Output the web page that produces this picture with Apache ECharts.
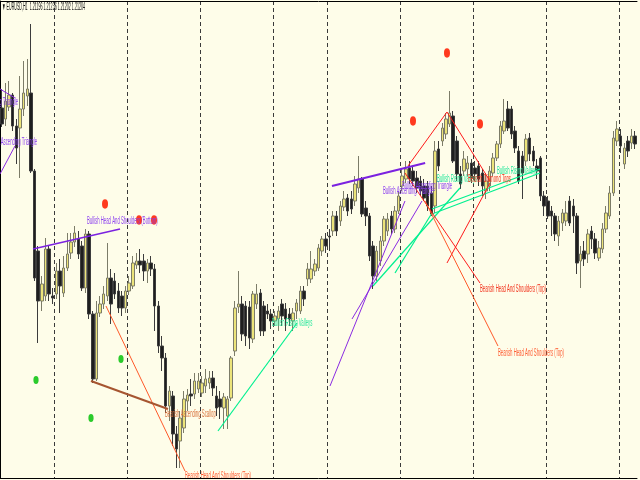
<!DOCTYPE html>
<html><head><meta charset="utf-8">
<script src="https://cdn.jsdelivr.net/npm/echarts@6/dist/echarts.min.js"></script>
<style>html,body{margin:0;padding:0;background:#FEFDE9}#c{width:640px;height:480px}</style>
</head><body><div id="c"></div>
<script>
// ---- candle data (EURUSD H1) ----
const opens = [1.2153,1.2142,1.2154,1.2166,1.2135,1.2133,1.2152,1.2165,1.2168,1.2090,
1.2010,1.1960,1.1965,1.2012,1.1965,1.1967,1.1990,1.1968,1.1993,1.2008,
1.2019,1.2022,1.2015,1.1973,1.2027,1.1947,1.1882,1.1948,1.1957,1.1965,
1.1983,1.1980,1.1970,1.1965,1.1953,1.1970,1.1975,1.1996,1.2000,1.2000,
1.1990,1.1998,1.1992,1.1955,1.1915,1.1903,1.1855,1.1865,1.1827,1.1820,
1.1833,1.1860,1.1867,1.1867,1.1872,1.1868,1.1875,1.1878,1.1883,1.1865,
1.1862,1.1853,1.1845,1.1863,1.1910,1.1954,1.1957,1.1955,1.1954,1.1922,
1.1957,1.1968,1.1955,1.1950,1.1947,1.1940,1.1942,1.1957,1.1952,1.1947,
1.1940,1.1950,1.1950,1.1970,1.1982,1.1982,1.1990,1.1993,1.2010,1.2022,
1.2025,1.2030,1.2045,1.2040,1.2054,1.2063,1.2062,1.2060,1.2073,1.2082,
1.2053,1.2045,1.2015,1.1985,1.2000,1.2020,1.2030,1.2045,1.2032,1.2050,
1.2075,1.2082,1.2093,1.2090,1.2083,1.2080,1.2075,1.2075,1.2068,1.2055,
1.2112,1.2120,1.2127,1.2137,1.2145,1.2120,1.2087,1.2090,1.2092,1.2098,
1.2093,1.2095,1.2088,1.2070,1.2075,1.2088,1.2103,1.2117,1.2130,1.2152,
1.2152,1.2130,1.2110,1.2105,1.2100,1.2123,1.2110,1.2095,1.2103,1.2065,
1.2060,1.2050,1.2045,1.2025,1.2038,1.2040,1.2060,1.2055,1.2045,1.2000,
1.2010,1.2007,1.2030,1.2022,1.2003,1.2012,1.2032,1.2045,1.2068,1.2120,
1.2125,1.2097,1.2120,1.2118,1.2125];
const closes = [1.2137,1.2160,1.2166,1.2135,1.2113,1.2152,1.2168,1.2172,1.2090,1.1983,
1.1960,1.1977,1.2012,1.1967,1.1963,1.1990,1.1975,1.1993,1.2007,1.2019,
1.2028,1.2007,1.1973,1.2027,1.1947,1.1882,1.1948,1.1957,1.1967,1.1983,
1.1957,1.1967,1.1953,1.1953,1.1970,1.1978,1.1998,1.2000,1.1996,1.1990,
1.1998,1.1992,1.1955,1.1915,1.1903,1.1855,1.1870,1.1827,1.1812,1.1843,
1.1862,1.1866,1.1865,1.1880,1.1880,1.1878,1.1882,1.1883,1.1873,1.1853,
1.1854,1.1864,1.1862,1.1903,1.1953,1.1957,1.1927,1.1925,1.1923,1.1967,
1.1967,1.1930,1.1930,1.1947,1.1940,1.1945,1.1950,1.1945,1.1942,1.1942,
1.1948,1.1958,1.1970,1.1962,1.1992,1.1992,1.1997,1.2013,1.2022,1.2015,
1.2024,1.2045,1.2030,1.2055,1.2062,1.2050,1.2052,1.2077,1.2082,1.2047,
1.2045,1.2005,1.1985,1.2010,1.2020,1.2042,1.2042,1.2032,1.2050,1.2065,
1.2085,1.2092,1.2082,1.2080,1.2073,1.2070,1.2063,1.2055,1.2047,1.2110,
1.2095,1.2133,1.2142,1.2148,1.2100,1.2087,1.2077,1.2102,1.2098,1.2083,
1.2087,1.2082,1.2075,1.2080,1.2090,1.2103,1.2117,1.2135,1.2140,1.2133,
1.2127,1.2113,1.2080,1.2088,1.2122,1.2107,1.2100,1.2090,1.2065,1.2055,
1.2045,1.2045,1.2027,1.2040,1.2048,1.2048,1.2038,1.2045,1.1998,1.2007,
1.2002,1.2027,1.2022,1.2008,1.2013,1.2032,1.2048,1.2068,1.2123,1.2132,
1.2115,1.2113,1.2110,1.2125,1.2117];
const lows = [1.2134,1.2135,1.2150,1.2130,1.2097,1.2083,1.2145,1.2155,1.2088,1.1980,
1.1918,1.1950,1.1960,1.1960,1.1957,1.1962,1.1948,1.1964,1.1990,1.2002,
1.2014,1.2002,1.1970,1.1968,1.1942,1.1878,1.1880,1.1944,1.1952,1.1960,
1.1937,1.1962,1.1948,1.1945,1.1948,1.1966,1.1972,1.1992,1.1988,1.1980,
1.1978,1.1985,1.1930,1.1908,1.1890,1.1848,1.1840,1.1815,1.1793,1.1793,
1.1828,1.1850,1.1855,1.1862,1.1868,1.1864,1.1868,1.1872,1.1865,1.1845,
1.1842,1.1832,1.1832,1.1860,1.1905,1.1948,1.1920,1.1915,1.1912,1.1918,
1.1952,1.1925,1.1925,1.1942,1.1932,1.1935,1.1930,1.1935,1.1930,1.1935,
1.1930,1.1942,1.1947,1.1955,1.1975,1.1978,1.1985,1.1990,1.2005,1.2008,
1.2010,1.2025,1.2025,1.2035,1.2050,1.2045,1.2047,1.2055,1.2068,1.2044,
1.2035,1.2000,1.1972,1.1980,1.1995,1.2015,1.2025,1.2027,1.2028,1.2047,
1.2070,1.2078,1.2077,1.2075,1.2068,1.2065,1.2060,1.2050,1.2045,1.2048,
1.2090,1.2115,1.2122,1.2134,1.2098,1.2080,1.2072,1.2085,1.2085,1.2078,
1.2080,1.2075,1.2065,1.2062,1.2070,1.2085,1.2100,1.2113,1.2127,1.2130,
1.2122,1.2108,1.2077,1.2062,1.2095,1.2100,1.2095,1.2082,1.2060,1.2045,
1.2042,1.2025,1.2020,1.2015,1.2030,1.2035,1.2035,1.2028,1.1987,1.1973,
1.1995,1.1998,1.2012,1.2002,1.2000,1.2008,1.2028,1.2042,1.2065,1.2115,
1.2108,1.2092,1.2104,1.2112,1.2112];
const highs = [1.2172,1.2178,1.2180,1.2168,1.2142,1.2185,1.2200,1.2202,1.2237,1.2092,
1.2015,1.1985,1.2023,1.2015,1.1973,1.1998,1.2002,1.2005,1.2028,1.2028,
1.2035,1.2030,1.2020,1.2032,1.2030,1.1950,1.1960,1.1965,1.1975,1.2018,
1.1992,1.1988,1.1978,1.1970,1.1975,1.1985,1.2005,1.2008,1.2012,1.2007,
1.2002,1.2005,1.1997,1.1960,1.1925,1.1908,1.1875,1.1870,1.1835,1.1850,
1.1870,1.1872,1.1882,1.1888,1.1888,1.1885,1.1892,1.1890,1.1890,1.1875,
1.1870,1.1868,1.1865,1.1905,1.1960,1.1990,1.1965,1.1960,1.1960,1.1970,
1.1977,1.1972,1.1960,1.1957,1.1952,1.1950,1.1955,1.1962,1.1958,1.1953,
1.1953,1.1962,1.1975,1.1975,1.1998,1.2010,1.2002,1.2017,1.2025,1.2028,
1.2032,1.2050,1.2050,1.2060,1.2070,1.2067,1.2070,1.2085,1.2105,1.2084,
1.2060,1.2048,1.2020,1.2015,1.2025,1.2045,1.2048,1.2050,1.2055,1.2070,
1.2092,1.2100,1.2100,1.2095,1.2090,1.2085,1.2082,1.2080,1.2075,1.2120,
1.2120,1.2138,1.2148,1.2170,1.2150,1.2125,1.2095,1.2110,1.2105,1.2102,
1.2100,1.2100,1.2092,1.2088,1.2095,1.2108,1.2120,1.2140,1.2162,1.2160,
1.2155,1.2135,1.2115,1.2110,1.2127,1.2128,1.2115,1.2102,1.2105,1.2070,
1.2065,1.2055,1.2048,1.2045,1.2052,1.2060,1.2065,1.2062,1.2048,1.2015,
1.2020,1.2032,1.2035,1.2028,1.2020,1.2038,1.2055,1.2075,1.2130,1.2140,
1.2132,1.2118,1.2125,1.2132,1.2130];
// day separators (bar index where a new session starts)
const separatorBars = [15,35,55,75,90,110,130,150,170];

// ---- pattern annotations (x in bars, y in price) ----
const PATTERN_KINDS = ['triangle','triangleTop','hsBottom','hsTop','hsTopAlt','scallop','valleys','diamond'];
// [x1, price1, x2, price2, kindIndex]
const patternLines = [
 [0,1.2172,4.12,1.2163,0],
 [0,1.2087,4.12,1.2115,0],
 [9.07,1.2012,32.97,1.2032,2],
 [91.2,1.2075,116.8,1.2098,1],
 [90.66,1.1875,111.26,1.2060,0],
 [96.7,1.1942,115.93,1.2060,0],
 [59.89,1.1830,81.59,1.1938,6],
 [102.47,1.1975,126.37,1.2073,6],
 [118.68,1.2047,148.35,1.2088,6],
 [118.68,1.2052,148.35,1.2092,6],
 [108.52,1.1988,118.68,1.2048,6],
 [29.12,1.1955,50.82,1.1790,4],
 [25.0,1.1880,46.15,1.1852,5],
 [112.09,1.2095,122.8,1.2149,7],
 [122.8,1.2149,134.62,1.2080,7],
 [134.62,1.2078,122.8,1.1998,7],
 [111.26,1.2088,131.87,1.1978,3],
 [116.76,1.2060,136.81,1.1915,4]
];
const patternNames = ['Bullish Ascending Triangle','Bullish Head And Shoulders (Bottom)','Bearish Ascending Scallop',
 'Bearish Head And Shoulders (Top)','Bullish Rising Valleys','Bearish Diamond Tops'];
// [x, price, nameIndex, kindIndex]
const patternLabels = [
 [-8.8,1.2159,0,0],
 [-3.6,1.2119,0,0],
 [23.9,1.2040,1,2],
 [45.33,1.1847,2,5],
 [50.82,1.1785,3,4],
 [74.73,1.1938,4,6],
 [105.22,1.2070,0,0],
 [110.44,1.2075,0,0],
 [120.05,1.2082,4,6],
 [128.57,1.2082,5,7],
 [136.54,1.2090,4,6],
 [131.87,1.1972,3,3],
 [136.81,1.1908,3,4]
];
// [x, price]
const topMarkers = [[28.85,1.2057],[38.19,1.2041],[42.31,1.2041],[122.8,1.2208],[113.46,1.2140],[131.87,1.2137]];
const bottomMarkers = [[9.89,1.1881],[33.24,1.1902],[25.0,1.1843]];

// ---- styles ----
const kindLineStyle = {
 triangle:{stroke:'#8A2BE2',lineWidth:1},
 triangleTop:{stroke:'#7B22E0',lineWidth:2},
 hsBottom:{stroke:'#7B22E0',lineWidth:1.5},
 hsTop:{stroke:'#FF1E1E',lineWidth:1},
 hsTopAlt:{stroke:'#FF5A2A',lineWidth:1},
 scallop:{stroke:'#A65530',lineWidth:2},
 valleys:{stroke:'#00F090',lineWidth:1.2},
 diamond:{stroke:'#FF1A1A',lineWidth:1}
};
const kindTextColor = {
 triangle:'#8A3CF0', triangleTop:'#8A3CF0', hsBottom:'#8A3CF0', hsTop:'#F2301A', hsTopAlt:'#FF5A30',
 scallop:'#D8703A', valleys:'#22E69A', diamond:'#F2301A'
};
const LABEL_FONT = '10px "Liberation Sans Narrow", "Liberation Sans", Arial, sans-serif';
const TITLE_FONT = '10px "Liberation Sans Narrow", "Liberation Sans", Arial, sans-serif';
const titleText = '\u25BC EURUSD,H1  1.21196 1.21236 1.21202 1.21204';
function measure(t, f){const c=document.createElement('canvas').getContext('2d');c.font=f;return c.measureText(t).width;}
const labelScale = 66 / measure('Bearish Head And Shoulders (Top)', LABEL_FONT);
const titleScale = 83 / measure(titleText, TITLE_FONT);

const N = opens.length;
const categories = opens.map((_, i) => String(i));
const candleData = opens.map((o, i) => [o, closes[i], lows[i], highs[i]]);
const sepSet = new Set(separatorBars);
const Y_MAX = 1.2260, Y_MIN = 1.1783;

const chart = echarts.init(document.getElementById('c'), null, {renderer:'canvas'});
chart.setOption({
 animation:false,
 backgroundColor:'#FEFDE9',
 grid:{left:0,right:3,top:1,bottom:2,containLabel:false},
 graphic:[{type:'text',x:2,y:2,scaleX:titleScale,z:100,
   style:{text:titleText,font:TITLE_FONT,fill:'#111',textVerticalAlign:'top'}}],
 xAxis:[
  {type:'category',data:categories,boundaryGap:true,position:'bottom',
   axisLine:{show:true,lineStyle:{color:'#000',width:1}},axisTick:{show:false},axisLabel:{show:false},
   splitLine:{show:true,showMaxLine:false,interval:(idx)=>sepSet.has(idx),
     lineStyle:{color:'#3a3a3a',width:1,type:[4,3]}}},
  {type:'value',min:0,max:N,position:'top',
   axisLine:{show:true,onZero:false,lineStyle:{color:'#000',width:1}},axisTick:{show:false},axisLabel:{show:false},splitLine:{show:false}}
 ],
 yAxis:{type:'value',min:Y_MIN,max:Y_MAX,position:'right',scale:true,
   axisLine:{show:true,lineStyle:{color:'#000'}},axisTick:{show:false},axisLabel:{show:false},splitLine:{show:false}},
 series:[
  {type:'candlestick',xAxisIndex:0,yAxisIndex:0,data:candleData,barWidth:3,z:2,
   itemStyle:{color:'#ECE47A',color0:'#1E1E1E',borderColor:'#7C7C68',borderColor0:'#3C3C3C',borderWidth:1}},
  {type:'custom',xAxisIndex:1,yAxisIndex:0,clip:true,z:3,silent:true,data:patternLines,
   renderItem:(p,api)=>{
     const a=api.coord([api.value(0),api.value(1)]), b=api.coord([api.value(2),api.value(3)]);
     const st=kindLineStyle[PATTERN_KINDS[api.value(4)]];
     return {type:'line',shape:{x1:a[0],y1:a[1],x2:b[0],y2:b[1]},style:{stroke:st.stroke,lineWidth:st.lineWidth}};
   }},
  {type:'custom',xAxisIndex:1,yAxisIndex:0,clip:true,z:4,silent:true,data:topMarkers,
   renderItem:(p,api)=>{
     const a=api.coord([api.value(0),api.value(1)]);
     return {type:'circle',x:a[0],y:a[1],scaleY:1.55,shape:{cx:0,cy:0,r:3},style:{fill:'#FF3A1E'}};
   }},
  {type:'custom',xAxisIndex:1,yAxisIndex:0,clip:true,z:4,silent:true,data:bottomMarkers,
   renderItem:(p,api)=>{
     const a=api.coord([api.value(0),api.value(1)]);
     return {type:'circle',x:a[0],y:a[1],scaleY:1.55,shape:{cx:0,cy:0,r:2.6},style:{fill:'#2BCB2B'}};
   }},
  {type:'custom',xAxisIndex:1,yAxisIndex:0,clip:true,z:5,silent:true,data:patternLabels,
   renderItem:(p,api)=>{
     const a=api.coord([api.value(0),api.value(1)]);
     const name=patternNames[api.value(2)], kind=PATTERN_KINDS[api.value(3)];
     return {type:'text',x:a[0],y:a[1],scaleX:labelScale,
       style:{text:name,font:LABEL_FONT,fill:kindTextColor[kind],align:'left',verticalAlign:'middle'}};
   }}
 ]
});
</script>
</body></html>
